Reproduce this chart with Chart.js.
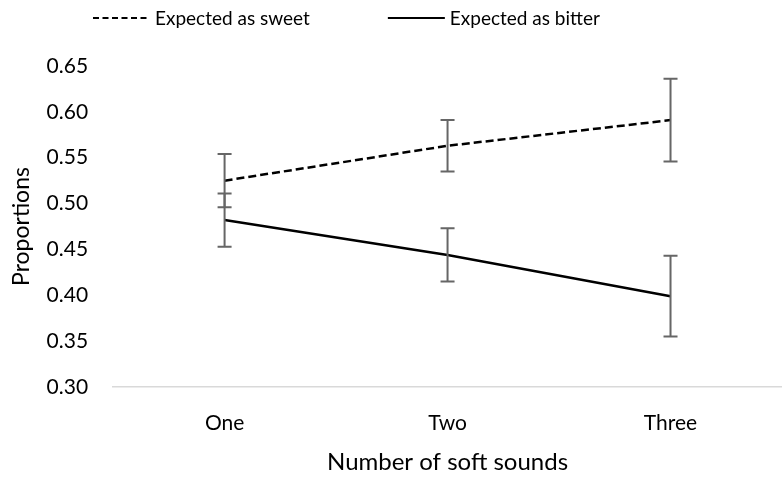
<!DOCTYPE html>
<html>
<head>
<meta charset="utf-8">
<script src="https://cdn.jsdelivr.net/npm/chart.js@4.4.1/dist/chart.umd.min.js"></script>
<style>
  html, body { margin: 0; padding: 0; background: #fff; }
  #wrap { width: 782px; height: 477px; }
</style>
</head>
<body>
<div id="wrap"><canvas id="chart"></canvas></div>
<script>
// data
const categories = ['One', 'Two', 'Three'];
const sweetValues = [0.525, 0.563, 0.591];
const sweetErrors = [0.029, 0.028, 0.045];
const bitterValues = [0.482, 0.444, 0.399];
const bitterErrors = [0.029, 0.029, 0.044];
const yTicks = [0.30, 0.35, 0.40, 0.45, 0.50, 0.55, 0.60, 0.65];

const FONT = 'Lato, "Open Sans", sans-serif';

// draws the error bars with the scales of the chart
const errorBars = {
    id: 'errorBars',
    afterDatasetsDraw(chart) {
        const ctx = chart.ctx;
        const yScale = chart.scales.y;
        ctx.save();
        ctx.strokeStyle = '#666666';
        ctx.lineWidth = 2;
        chart.data.datasets.forEach((ds, i) => {
            const meta = chart.getDatasetMeta(i);
            meta.data.forEach((pt, j) => {
                const v = ds.data[j];
                const e = ds.errors[j];
                const x = pt.x;
                const yTop = yScale.getPixelForValue(v + e);
                const yBot = yScale.getPixelForValue(v - e);
                ctx.beginPath();
                ctx.moveTo(x, yTop);
                ctx.lineTo(x, yBot);
                ctx.moveTo(x - 7, yTop);
                ctx.lineTo(x + 7, yTop);
                ctx.moveTo(x - 7, yBot);
                ctx.lineTo(x + 7, yBot);
                ctx.stroke();
            });
        });
        ctx.restore();
    }
};

// legend along the top, sample line then label
const topLegend = {
    id: 'topLegend',
    afterDraw(chart) {
        const ctx = chart.ctx;
        ctx.save();
        ctx.font = '19px ' + FONT;
        ctx.fillStyle = '#000';
        ctx.textBaseline = 'middle';
        let x = 93;
        const y = 18;
        chart.data.datasets.forEach((ds) => {
            ctx.strokeStyle = '#000';
            ctx.lineWidth = 2;
            ctx.setLineDash(ds.borderDash ? [6, 3.5] : []);
            ctx.beginPath();
            ctx.moveTo(x, y);
            ctx.lineTo(x + 57, y);
            ctx.stroke();
            ctx.setLineDash([]);
            ctx.fillText(ds.label, x + 62, y + 1);
            x += 62 + ctx.measureText(ds.label).width + 78;
        });
        ctx.restore();
    }
};

new Chart(document.getElementById('chart'), {
    type: 'line',
    data: {
        labels: categories,
        datasets: [{
            label: 'Expected as sweet',
            data: sweetValues,
            errors: sweetErrors,
            borderColor: '#000',
            backgroundColor: '#000',
            borderWidth: 2.5,
            borderDash: [8, 4],
            pointRadius: 0,
            tension: 0
        }, {
            label: 'Expected as bitter',
            data: bitterValues,
            errors: bitterErrors,
            borderColor: '#000',
            backgroundColor: '#000',
            borderWidth: 2.5,
            pointRadius: 0,
            tension: 0
        }]
    },
    options: {
        responsive: true,
        maintainAspectRatio: false,
        animation: false,
        layout: { padding: { top: 66, right: 0, bottom: 0, left: 8 } },
        plugins: {
            legend: { display: false },
            tooltip: { enabled: false }
        },
        scales: {
            x: {
                offset: true,
                grid: { display: false, drawTicks: false },
                border: { display: true, color: '#d9d9d9', width: 1.5 },
                ticks: { color: '#000', font: { family: FONT, size: 21 }, padding: 24 },
                title: {
                    display: true,
                    text: 'Number of soft sounds',
                    color: '#000',
                    font: { family: FONT, size: 24 },
                    padding: { top: -12, bottom: 0 }
                }
            },
            y: {
                min: 0.30,
                max: 0.65,
                afterBuildTicks: (axis) => { axis.ticks = yTicks.map(v => ({ value: v })); },
                grid: { display: false, drawTicks: false },
                border: { display: false },
                ticks: {
                    color: '#000',
                    font: { family: FONT, size: 21 },
                    padding: 25,
                    callback: (v) => Number(v).toFixed(2)
                },
                title: {
                    display: true,
                    text: 'Proportions',
                    color: '#000',
                    font: { family: FONT, size: 23 },
                    padding: { top: 0, bottom: -14 }
                }
            }
        }
    },
    plugins: [errorBars, topLegend]
});
</script>
</body>
</html>
